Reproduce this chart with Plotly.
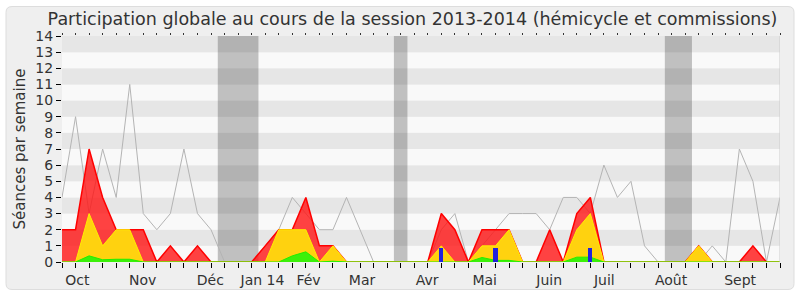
import plotly.graph_objects as go

# ---- data ----
weeks = list(range(54))
total = [4, 9, 3, 7, 4, 11, 3, 2, 3, 7,
         3, 2, 0, 0, 0, 1, 2, 4, 3, 2,
         2, 4, 2, 0, 0, 0, 0, 0, 2, 3,
         0, 1, 2, 3, 3, 3, 2, 4, 4, 3,
         6, 4, 5, 1, 0, 0, 0, 0, 1, 0,
         7, 5, 0, 4]
presences = [2, 2, 7, 4, 2, 2, 2, 0, 1, 0,
             1, 0, 0, 0, 0, 1, 2, 2, 4, 1,
             1, 0, 0, 0, 0, 0, 0, 0, 3, 2,
             0, 2, 2, 2, 0, 0, 2, 0, 3, 4,
             0, 0, 0, 0, 0, 0, 0, 1, 0, 0,
             0, 1, 0, 0]
interventions = [0, 0, 3, 1, 2, 2, 0, 0, 0, 0,
                 0, 0, 0, 0, 0, 0, 2, 2, 2, 0,
                 1, 0, 0, 0, 0, 0, 0, 0, 1, 0,
                 0, 1, 1, 2, 0, 0, 0, 0, 2, 3,
                 0, 0, 0, 0, 0, 0, 0, 1, 0, 0,
                 0, 0, 0, 0]
rapports = [0, 0, 0.38, 0.14, 0.17, 0.17, 0, 0, 0, 0,
            0, 0, 0, 0, 0, 0, 0, 0.38, 0.63, 0,
            0.05, 0, 0, 0, 0, 0, 0, 0, 0, 0,
            0, 0.28, 0.1, 0.1, 0, 0, 0, 0, 0.3, 0.3,
            0, 0, 0, 0, 0, 0, 0, 0, 0, 0,
            0, 0, 0, 0]
questions_weeks = [28, 32, 39]
questions = [0.87, 0.87, 0.87]
vacances = [(11.5, 14.5), (24.5, 25.5), (44.5, 46.5)]
month_pos = [1.14, 5.95, 10.95, 14.8, 18.2, 22.15, 26.96, 31.2, 35.96, 40.03, 44.96, 50.06]
month_labels = ["Oct", "Nov", "Déc", "Jan 14", "Fév", "Mar", "Avr", "Mai", "Juin", "Juil", "Août", "Sept"]
y_max = 14

FONT = "DejaVu Sans"
W, H = 800, 300
ML, MR, MT, MB = 62, 20, 36, 34
PW, PH = W - ML - MR, H - MT - MB


def px2paper(px, py):
    return (px - ML) / PW, (H - MB - py) / PH


def rounded_box(x0, y0, x1, y1, r):
    def P(x, y):
        a, b = px2paper(x, y)
        return f"{a:.5f},{b:.5f}"
    d = (f"M {P(x0 + r, y0)} L {P(x1 - r, y0)} Q {P(x1, y0)} {P(x1, y0 + r)} "
         f"L {P(x1, y1 - r)} Q {P(x1, y1)} {P(x1 - r, y1)} "
         f"L {P(x0 + r, y1)} Q {P(x0, y1)} {P(x0, y1 - r)} "
         f"L {P(x0, y0 + r)} Q {P(x0, y0)} {P(x0 + r, y0)} Z")
    return d


fig = go.Figure()

fig.add_trace(go.Scatter(x=weeks, y=total, mode="lines",
                         line=dict(color="#b4b4b4", width=1), hoverinfo="skip", showlegend=False))
fig.add_trace(go.Scatter(x=weeks, y=presences, mode="lines", fill="tozeroy",
                         fillcolor="rgba(255,20,20,0.8)", line=dict(color="#ff0000", width=1.5),
                         showlegend=False))
fig.add_trace(go.Scatter(x=weeks, y=interventions, mode="lines", fill="tozeroy",
                         fillcolor="#ffd20f", line=dict(color="#ffee00", width=1),
                         showlegend=False))
fig.add_trace(go.Scatter(x=weeks, y=rapports, mode="lines", fill="tozeroy",
                         fillcolor="#3cf00a", line=dict(color="#22ee00", width=1),
                         showlegend=False))
fig.add_trace(go.Bar(x=questions_weeks, y=questions, width=0.3,
                     marker=dict(color="#2222dd", line=dict(width=0)), zorder=5,
                     showlegend=False))
# invisible trace to activate the top tick axis
fig.add_trace(go.Scatter(x=weeks, y=total, xaxis="x2", mode="lines",
                         line=dict(width=0), opacity=0, hoverinfo="skip", showlegend=False))

shapes = []
# rounded outer box
shapes.append(dict(type="path", xref="paper", yref="paper",
                   path=rounded_box(6, 6, 794, 294, 6),
                   fillcolor="#efefef", line=dict(color="#dddddd", width=1), layer="below"))
# horizontal stripes (alternating)
for k in range(0, y_max):
    shapes.append(dict(type="rect", xref="x", yref="y", x0=weeks[0], x1=weeks[-1],
                       y0=k, y1=k + 1, fillcolor="#e6e6e6" if k % 2 else "#f9f9f9",
                       line=dict(width=0), layer="below"))
# vacation bands
for a, b in vacances:
    shapes.append(dict(type="rect", xref="x", yref="y", x0=a, x1=b, y0=0, y1=y_max,
                       fillcolor="rgba(60,60,60,0.3)", line=dict(width=0), layer="below"))
# right border
shapes.append(dict(type="line", xref="x", yref="y", x0=weeks[-1], x1=weeks[-1], y0=0, y1=y_max,
                   line=dict(color="#cccccc", width=1), layer="above"))

fig.update_layout(
    width=W, height=H,
    margin=dict(l=ML, r=MR, t=MT, b=MB),
    paper_bgcolor="white",
    plot_bgcolor="#f9f9f9",
    font=dict(family=FONT, size=14, color="#333333"),
    title=dict(text="Participation globale au cours de la session 2013-2014 (hémicycle et commissions)",
               x=412.5 / W, xref="container", xanchor="center",
               y=1 - 19 / H, yref="container", yanchor="middle",
               font=dict(family=FONT, size=17.5, color="#333333")),
    shapes=shapes,
    bargap=0,
    xaxis=dict(range=[weeks[0], weeks[-1]], tickmode="array", tickvals=month_pos, ticktext=month_labels,
               ticks="outside", ticklen=5, tickcolor="rgba(0,0,0,0)",
               minor=dict(ticks="outside", ticklen=5, tickcolor="#000000", tickmode="linear",
                          tick0=0, dtick=1, showgrid=False),
               showgrid=False, zeroline=False, showline=True, linecolor="#000000", linewidth=1,
               tickfont=dict(size=14, color="#333333"), fixedrange=True),
    xaxis2=dict(range=[weeks[0], weeks[-1]], overlaying="x", side="top", anchor="y",
                tickmode="linear", tick0=0, dtick=1, ticks="outside", ticklen=2, tickcolor="#333333",
                showticklabels=False, showgrid=False, zeroline=False, showline=False),
    yaxis=dict(range=[0, y_max], tickmode="linear", tick0=0, dtick=1,
               ticks="outside", ticklen=5, tickcolor="#000000",
               showgrid=False, zeroline=False, showline=True, linecolor="#000000", linewidth=1,
               tickfont=dict(size=14, color="#333333"),
               title=dict(text="Séances par semaine", font=dict(size=15, color="#333333"), standoff=6)),
)

fig.write_html("out.html")
